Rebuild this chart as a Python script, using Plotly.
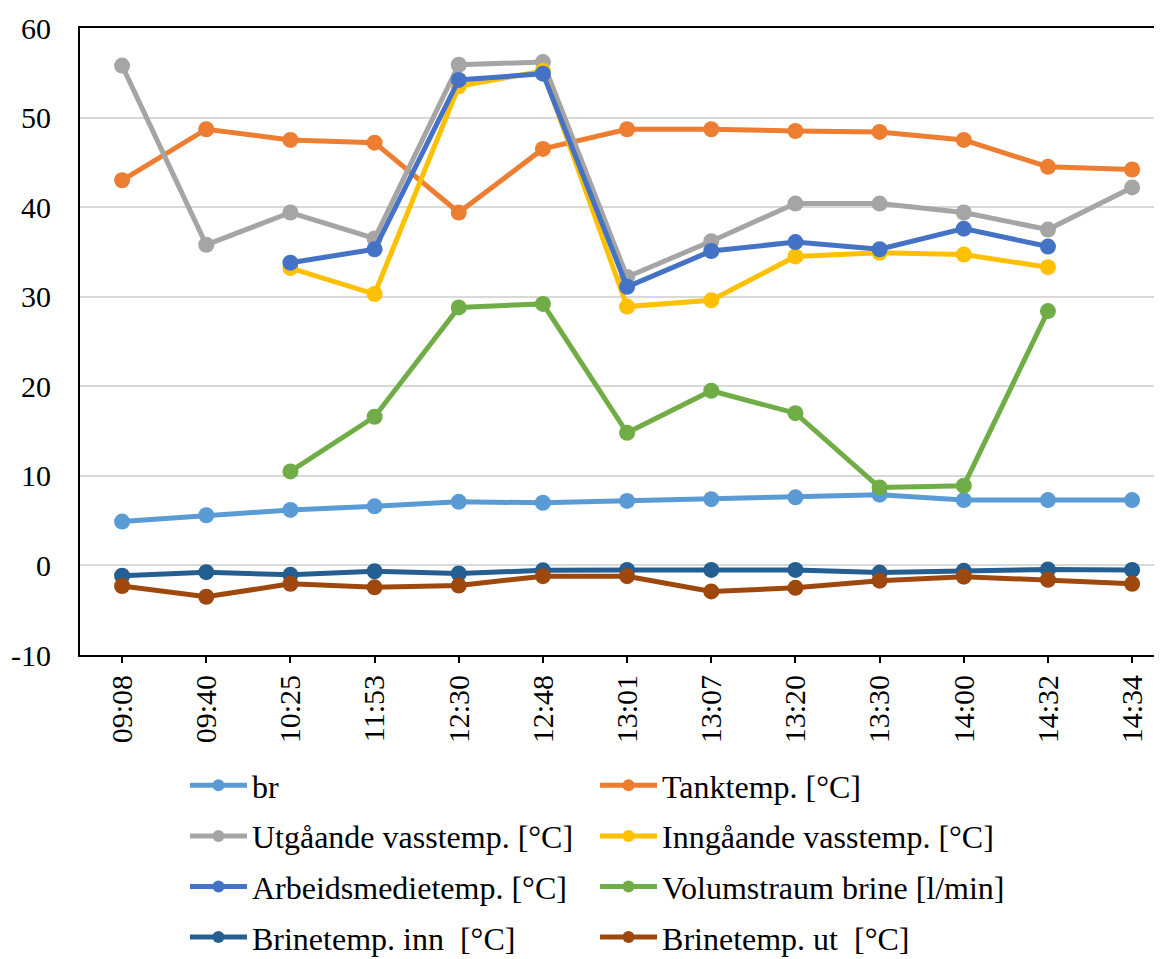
import plotly.graph_objects as go

times = ["09:08", "09:40", "10:25", "11:53", "12:30", "12:48", "13:01",
         "13:07", "13:20", "13:30", "14:00", "14:32", "14:34"]

br = [4.9, 5.6, 6.2, 6.6, 7.1, 7.0, 7.2, 7.4, 7.6, 7.9, 7.3, 7.3, 7.3]
tanktemp = [43.0, 48.7, 47.5, 47.2, 39.4, 46.5, 48.7, 48.7, 48.5, 48.4, 47.5, 44.5, 44.2]
utgaande = [55.8, 35.8, 39.4, 36.5, 55.9, 56.2, 32.2, 36.2, 40.4, 40.4, 39.4, 37.5, 42.2]
inngaande = [None, None, 33.2, 30.3, 53.5, 55.2, 28.9, 29.6, 34.5, 34.9, 34.7, 33.3, None]
arbeidsmedie = [None, None, 33.8, 35.3, 54.2, 54.9, 31.1, 35.1, 36.1, 35.3, 37.6, 35.6, None]
volumstraum = [None, None, 10.5, 16.6, 28.8, 29.2, 14.8, 19.5, 17.0, 8.7, 8.9, 28.4, None]
brine_inn = [-1.15, -0.75, -1.05, -0.65, -0.9, -0.55, -0.5, -0.5, -0.5, -0.8, -0.6, -0.45, -0.5]
brine_ut = [-2.3, -3.5, -2.05, -2.45, -2.25, -1.2, -1.2, -2.9, -2.5, -1.7, -1.25, -1.6, -2.05]

y_ticks = [-10, 0, 10, 20, 30, 40, 50, 60]
y_ticktext = ["-10", "0", "10", "20", "30", "40", "50", "60"]

# (name, values, colour, legend column)
series = [
    ("br", br, "#5B9BD5", "legend"),
    ("Tanktemp. [°C]", tanktemp, "#ED7D31", "legend2"),
    ("Utgåande vasstemp. [°C]", utgaande, "#A5A5A5", "legend"),
    ("Inngåande vasstemp. [°C]", inngaande, "#FFC000", "legend2"),
    ("Arbeidsmedietemp. [°C]", arbeidsmedie, "#4472C4", "legend"),
    ("Volumstraum brine [l/min]", volumstraum, "#70AD47", "legend2"),
    ("Brinetemp. inn  [°C]", brine_inn, "#255E91", "legend"),
    ("Brinetemp. ut  [°C]", brine_ut, "#9E480E", "legend2"),
]

serif = "Times New Roman, Liberation Serif, serif"

fig = go.Figure()
for i, (name, vals, col, leg) in enumerate(series):
    fig.add_trace(go.Scatter(
        x=times, y=vals, mode="lines+markers", name=name,
        legend=leg, legendgroup=f"g{i}",
        line=dict(color=col, width=5),
        marker=dict(color=col, size=16),
    ))

leg_common = dict(
    orientation="v", yanchor="top", y=-0.1643, xanchor="left",
    itemwidth=57, tracegroupgap=6, itemsizing="constant",
    font=dict(size=32, family=serif), bgcolor="rgba(0,0,0,0)",
)

# page body has an 8px margin, so the figure is 8px smaller than the window
fig.update_layout(
    width=1154, height=951,
    margin=dict(l=72, r=0, t=20, b=304, autoexpand=False),
    plot_bgcolor="white", paper_bgcolor="white",
    font=dict(family=serif, size=30, color="black"),
    showlegend=True,
    legend=dict(x=0.097, **leg_common),
    legend2=dict(x=0.476, **leg_common),
)

fig.update_xaxes(
    type="category", range=[-0.5, 12.355], automargin=False,
    showline=True, linecolor="black", linewidth=2, mirror=True,
    ticks="outside", ticklen=6, tickwidth=1.5, tickcolor="black",
    tickangle=-90, showgrid=False,
    tickfont=dict(family=serif, size=30),
)
fig.update_yaxes(
    range=[-10, 60], automargin=False,
    tickmode="array", tickvals=y_ticks, ticktext=y_ticktext,
    showline=True, linecolor="black", linewidth=2,
    showgrid=True, gridcolor="#D9D9D9", gridwidth=2, zeroline=False,
    ticks="", ticklabelstandoff=21,
    tickfont=dict(family=serif, size=30),
)

fig.write_html("out.html")
